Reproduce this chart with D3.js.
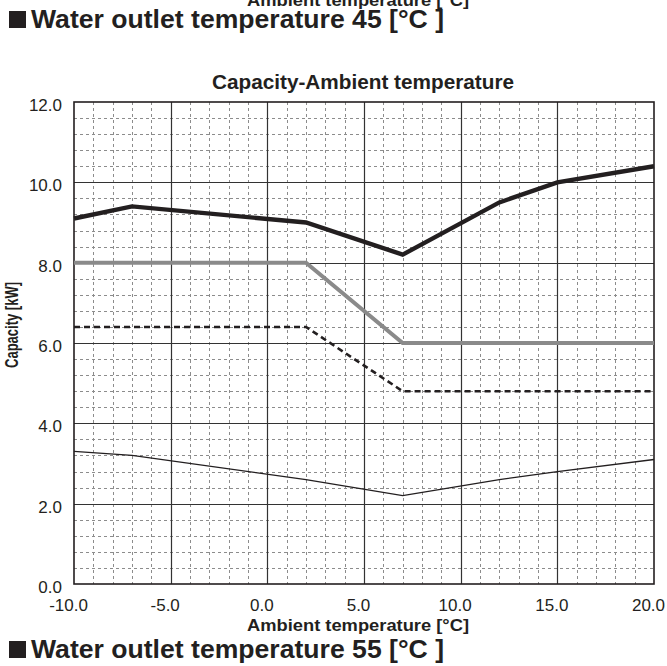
<!DOCTYPE html>
<html>
<head>
<meta charset="utf-8">
<script src="https://cdn.jsdelivr.net/npm/d3@7"></script>
<style>
  html, body { margin: 0; padding: 0; background: #fff; }
  svg { display: block; }
  text { font-family: Arial, "Liberation Sans", Helvetica, sans-serif; fill: #231f20; }
</style>
</head>
<body>
<svg id="chart" width="667" height="666"></svg>
<script>
// ---- data ----
const ambientTemps = [-10, -7, 2, 7, 12, 15, 20];
const capacityMax   = [9.1, 9.4, 9.0, 8.2, 9.5, 10.0, 10.4];
const capacityRated = [8.0, 8.0, 8.0, 6.0, 6.0, 6.0, 6.0];
const capacityMid   = [6.4, 6.4, 6.4, 4.8, 4.8, 4.8, 4.8];
const capacityMin   = [3.3, 3.2, 2.6, 2.2, 2.6, 2.8, 3.1];
const xTickValues = [-10, -5, 0, 5, 10, 15, 20];
const xTickLabels = ["-10.0", "-5.0", "0.0", "5.0", "10.0", "15.0", "20.0"];
const yTickValues = [0, 2, 4, 6, 8, 10, 12];
const yTickLabels = ["0.0", "2.0", "4.0", "6.0", "8.0", "10.0", "12.0"];
const chartTitle = "Capacity-Ambient temperature";
const xAxisTitle = "Ambient temperature [°C]";
const yAxisTitle = "Capacity [kW]";
const sectionTitleTop = "Water outlet temperature 45 [°C ]";
const sectionTitleBottom = "Water outlet temperature 55 [°C ]";

// ---- layout ----
const L = 74, R = 654, T = 102, B = 584;
const svg = d3.select("#chart");

const x = d3.scaleLinear().domain([-10, 20]).range([L, R]);
const y = d3.scaleLinear().domain([0, 12]).range([B, T]);

// minor grid
const g = svg.append("g");
const minorX = d3.range(-10, 20.001, 1).filter(v => Math.abs(v % 5) > 1e-6);
const minorY = d3.range(0, 12.001, 0.4).filter(v => Math.abs((v / 2) - Math.round(v / 2)) > 1e-6);
g.selectAll(".mx").data(minorX).join("line")
  .attr("x1", d => Math.round(x(d)) + 0.5).attr("x2", d => Math.round(x(d)) + 0.5)
  .attr("y1", T).attr("y2", B)
  .attr("stroke", "#8c8c8c").attr("stroke-width", 1).attr("stroke-dasharray", "3,3");
g.selectAll(".my").data(minorY).join("line")
  .attr("y1", d => Math.round(y(d)) + 0.5).attr("y2", d => Math.round(y(d)) + 0.5)
  .attr("x1", L).attr("x2", R)
  .attr("stroke", "#8c8c8c").attr("stroke-width", 1).attr("stroke-dasharray", "3,3");

// major grid
g.selectAll(".Mx").data(xTickValues.slice(1, -1)).join("line")
  .attr("x1", d => Math.round(x(d)) + 0.5).attr("x2", d => Math.round(x(d)) + 0.5)
  .attr("y1", T).attr("y2", B)
  .attr("stroke", "#333").attr("stroke-width", 1.2);
g.selectAll(".My").data(yTickValues.slice(1, -1)).join("line")
  .attr("y1", d => Math.round(y(d)) + 0.5).attr("y2", d => Math.round(y(d)) + 0.5)
  .attr("x1", L).attr("x2", R)
  .attr("stroke", "#333").attr("stroke-width", 1.2);

// frame
svg.append("rect").attr("x", L).attr("y", T).attr("width", R - L).attr("height", B - T)
  .attr("fill", "none").attr("stroke", "#231f20").attr("stroke-width", 1.6);

// axes (labels only)
const xAxis = d3.axisBottom(x).tickValues(xTickValues)
  .tickFormat((d, i) => xTickLabels[i]).tickSize(0).tickPadding(0);
const xa = svg.append("g").attr("transform", `translate(0,${B})`).call(xAxis);
xa.select(".domain").remove();
xa.selectAll("text").attr("font-size", 17).attr("dy", null).attr("y", 27).attr("dx", -6)
  .attr("fill", "#231f20").attr("font-family", "Arial, 'Liberation Sans', sans-serif");

const yAxis = d3.axisLeft(y).tickValues(yTickValues)
  .tickFormat((d, i) => yTickLabels[i]).tickSize(0).tickPadding(12);
const ya = svg.append("g").attr("transform", `translate(${L},0)`).call(yAxis);
ya.select(".domain").remove();
ya.selectAll("text").attr("font-size", 17).attr("dy", null).attr("y", 8.5)
  .attr("fill", "#231f20").attr("font-family", "Arial, 'Liberation Sans', sans-serif");

// series
const line = d3.line().x((d, i) => x(ambientTemps[i])).y(d => y(d));
svg.append("path").attr("d", line(capacityMin)).attr("fill", "none")
  .attr("stroke", "#231f20").attr("stroke-width", 1.3);
svg.append("path").attr("d", line(capacityMid)).attr("fill", "none")
  .attr("stroke", "#231f20").attr("stroke-width", 2.6).attr("stroke-dasharray", "6,4");
svg.append("path").attr("d", line(capacityRated)).attr("fill", "none")
  .attr("stroke", "#8a8a8a").attr("stroke-width", 4);
svg.append("path").attr("d", line(capacityMax)).attr("fill", "none")
  .attr("stroke", "#231f20").attr("stroke-width", 4.4).attr("stroke-linejoin", "miter");

// titles
svg.append("text").attr("x", 363).attr("y", 89).attr("text-anchor", "middle")
  .attr("font-size", 20).attr("font-weight", "bold")
  .attr("textLength", 302).attr("lengthAdjust", "spacingAndGlyphs").text(chartTitle);

svg.append("text").attr("x", 358).attr("y", 631).attr("text-anchor", "middle")
  .attr("font-size", 17).attr("font-weight", "bold")
  .attr("textLength", 222).attr("lengthAdjust", "spacingAndGlyphs").text(xAxisTitle);

svg.append("text").attr("x", 358).attr("y", 5.5).attr("text-anchor", "middle")
  .attr("font-size", 17).attr("font-weight", "bold")
  .attr("textLength", 222).attr("lengthAdjust", "spacingAndGlyphs").text(xAxisTitle);

svg.append("text").attr("transform", "translate(18,325) rotate(-90)")
  .attr("text-anchor", "middle").attr("font-size", 17.5).attr("font-weight", "bold")
  .attr("textLength", 86).attr("lengthAdjust", "spacingAndGlyphs").text(yAxisTitle);

function sectionTitle(baseline, label) {
  svg.append("rect").attr("x", 9).attr("y", baseline - 17).attr("width", 17).attr("height", 17)
    .attr("fill", "#231f20");
  svg.append("text").attr("x", 31).attr("y", baseline)
    .attr("font-size", 26).attr("font-weight", "bold")
    .attr("textLength", 413).attr("lengthAdjust", "spacingAndGlyphs").text(label);
}
sectionTitle(28, sectionTitleTop);
sectionTitle(658, sectionTitleBottom);
</script>
</body>
</html>
